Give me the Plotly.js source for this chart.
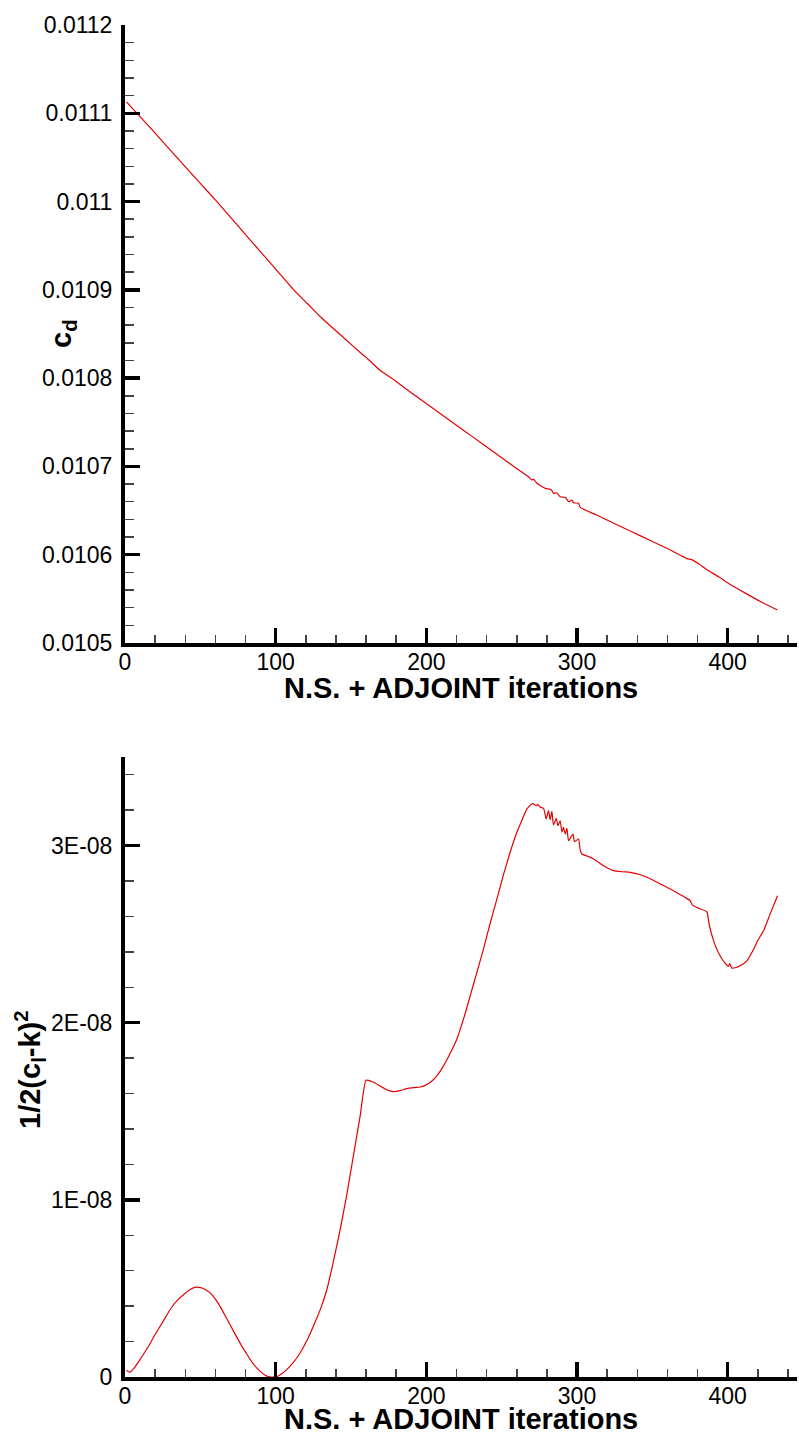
<!DOCTYPE html>
<html>
<head>
<meta charset="utf-8">
<script src="https://cdn.plot.ly/plotly-3.0.1.min.js"></script>
<style>
html, body { margin: 0; padding: 0; background: #ffffff; }
#chart { width: 799px; height: 1437px; }
</style>
</head>
<body>
<div id="chart"></div>
<script>
// ---- data ----
// top panel: drag coefficient vs iteration
var iterCd = [1, 8, 20, 35, 50, 61, 75, 90, 100, 112, 121, 130, 145, 158, 161, 169, 177, 191,
  202, 214, 225, 236, 247, 258, 267.8, 270, 271.1, 273.4, 278.9, 282.2, 283.3, 284.4, 286.6, 288.8,
  292.2, 293.3, 294.4, 296.6, 297.7, 301, 302.1, 313, 324, 336, 349, 361, 373, 376, 381, 386, 394,
  402, 412, 422, 433];
var cdValues = [0.0111130, 0.0111000, 0.0110775, 0.0110490, 0.0110205, 0.0110000, 0.0109725, 0.0109430,
  0.0109235, 0.0109000, 0.0108845, 0.0108690, 0.0108460, 0.0108262, 0.0108220, 0.0108092, 0.0108000,
  0.0107823, 0.0107688, 0.0107540, 0.0107405, 0.0107270, 0.0107135, 0.0107000,
  0.0106883, 0.0106846, 0.0106857, 0.0106809, 0.0106752, 0.0106741, 0.0106725, 0.0106695, 0.0106702,
  0.0106657, 0.0106650, 0.0106628, 0.0106600, 0.0106619, 0.0106589, 0.0106582, 0.0106537, 0.0106449,
  0.0106360, 0.0106263, 0.0106158, 0.0106061, 0.0105955, 0.0105945, 0.0105895, 0.0105833, 0.0105750,
  0.0105660, 0.0105562, 0.0105467, 0.0105374];

// bottom panel: 1/2(cl-k)^2 vs iteration (values in units of 1E-08)
var iterObj = [1, 3.3, 6, 10, 15, 20, 25, 30, 35, 39, 43, 47, 50, 52, 56.4, 60, 63, 67.5, 72, 76.5, 81,
  85, 89.6, 93, 96, 98, 101, 104, 107.4, 112, 116, 121, 126, 130, 134, 138, 143, 147, 151.6, 156, 160,
  163.8, 166, 169.3, 174, 178.2, 182, 187, 192, 196, 199, 202.5, 207, 211.4, 216, 220.2, 225, 229.1,
  233.5, 237.9, 242, 246.8, 251, 255.6, 259, 262.3, 266.7, 270, 271.1, 273, 274, 275.6, 277.8, 279.5,
  281.1, 282.2, 283.3, 284.4, 286.2, 287.3, 288.8, 290, 291, 292.2, 293.3, 294.4, 297.3, 298.4, 301,
  302.1, 303.2, 307, 311, 317.6, 321, 324.2, 330, 335.3, 342, 348.6, 356, 364.1, 368, 371.8, 375,
  376.7, 381, 386.2, 387.3, 388.4, 390, 391.8, 395.1, 398.4, 400.6, 401.3, 402.8, 405, 408.3, 412.7,
  417.2, 420, 423.8, 428, 433.1];
var objE8 = [0.038, 0.027, 0.050, 0.099, 0.165, 0.240, 0.310, 0.381, 0.435, 0.466, 0.492, 0.507, 0.505,
  0.500, 0.476, 0.440, 0.400, 0.330, 0.259, 0.190, 0.127, 0.075, 0.033, 0.010, 0.001, 0.000, 0.003,
  0.018, 0.042, 0.085, 0.133, 0.210, 0.306, 0.390, 0.494, 0.640, 0.840, 1.020, 1.250, 1.470, 1.675,
  1.668, 1.660, 1.643, 1.620, 1.611, 1.615, 1.628, 1.634, 1.637, 1.645, 1.662, 1.700, 1.756, 1.830,
  1.907, 2.030, 2.151, 2.283, 2.415, 2.550, 2.698, 2.830, 2.962, 3.050, 3.120, 3.206, 3.235, 3.235,
  3.225, 3.232, 3.216, 3.210, 3.150, 3.197, 3.146, 3.193, 3.116, 3.154, 3.112, 3.140, 3.075, 3.103,
  3.065, 3.097, 3.027, 3.065, 3.022, 3.037, 2.976, 2.952, 2.940, 2.924, 2.886, 2.870, 2.858, 2.852,
  2.849, 2.835, 2.813, 2.780, 2.745, 2.725, 2.707, 2.690, 2.664, 2.645, 2.626, 2.575, 2.530, 2.480,
  2.435, 2.375, 2.335, 2.318, 2.333, 2.308, 2.310, 2.321, 2.349, 2.415, 2.465, 2.519, 2.610, 2.717];
var objValues = objE8.map(function (v) { return v * 1e-8; });

// tick labels and titles
var cdTickVals = [0.0105, 0.0106, 0.0107, 0.0108, 0.0109, 0.011, 0.0111, 0.0112];
var cdTickText = ["0.0105", "0.0106", "0.0107", "0.0108", "0.0109", "0.011", "0.0111", "0.0112"];
var objTickVals = [0, 1e-8, 2e-8, 3e-8];
var objTickText = ["0", "1E-08", "2E-08", "3E-08"];
var xTickVals = [0, 100, 200, 300, 400];
var xTickText = ["0", "100", "200", "300", "400"];
var xTitle = "N.S. + ADJOINT iterations";
var cdTitle = "c<sub>d</sub>";
var objTitle = "1/2(c<sub>l</sub>-k)<sup>2</sup>";

// ---- styling ----
var FONT = "Liberation Sans, Arial, Helvetica, sans-serif";
var lineColor = "rgb(228,0,0)";

function xAxis(anchor) {
  return {
    anchor: anchor,
    range: [0, 446],
    tickmode: "array", tickvals: xTickVals, ticktext: xTickText,
    showline: true, linecolor: "#000", linewidth: 4,
    ticks: "inside", ticklen: 15, tickwidth: 3.5, tickcolor: "#000",
    minor: { dtick: 20, tick0: 0, ticks: "inside", ticklen: 8, tickwidth: 1.5, tickcolor: "#444", showgrid: false },
    showgrid: false, zeroline: false, mirror: false,
    tickfont: { family: FONT, size: 23, color: "#000" },
    ticklabelstandoff: -5
  };
}

function yAxis(anchor, domain, range, tv, tt, minorDtick) {
  return {
    anchor: anchor, domain: domain, range: range,
    tickmode: "array", tickvals: tv, ticktext: tt,
    showline: true, linecolor: "#000", linewidth: 4,
    ticks: "inside", ticklen: 15, tickwidth: 3.5, tickcolor: "#000",
    minor: { dtick: minorDtick, tick0: range[0], ticks: "inside", ticklen: 9, tickwidth: 1.5, tickcolor: "#444", showgrid: false },
    showgrid: false, zeroline: false, mirror: false,
    tickfont: { family: FONT, size: 23, color: "#000" },
    ticklabelstandoff: 4
  };
}

var traces = [
  { x: iterCd, y: cdValues, xaxis: "x", yaxis: "y", type: "scatter", mode: "lines",
    line: { color: lineColor, width: 1.2, shape: "spline", smoothing: 0.5 }, showlegend: false },
  { x: iterObj, y: objValues, xaxis: "x2", yaxis: "y2", type: "scatter", mode: "lines",
    line: { color: lineColor, width: 1.2, shape: "spline", smoothing: 0.5 }, showlegend: false }
];

function titleAnn(text, x, y, angle, yanchor) {
  return { text: "<b>" + text + "</b>", xref: "paper", yref: "paper", x: x, y: y,
    xanchor: "center", yanchor: yanchor || "middle", textangle: angle, showarrow: false,
    borderpad: 0,
    font: { family: FONT, size: 29, color: "#000" } };
}

var layout = {
  width: 799, height: 1437,
  margin: { l: 125, r: 2, t: 25, b: 60 },
  paper_bgcolor: "#ffffff", plot_bgcolor: "#ffffff",
  font: { family: FONT, color: "#000" },
  showlegend: false,
  xaxis: xAxis("y"),
  yaxis: yAxis("x", [0.5429, 1], [0.0105, 0.0112], cdTickVals, cdTickText, 0.00002),
  xaxis2: xAxis("y2"),
  yaxis2: yAxis("x2", [0, 0.4586], [0, 3.5e-8], objTickVals, objTickText, 2e-9),
  annotations: [
    titleAnn(xTitle, 0.5, 0.5096, 0),
    titleAnn(xTitle, 0.5, -0.0440, 0, "bottom"),
    titleAnn(cdTitle, -0.0923, 0.7722, -90),
    titleAnn(objTitle, -0.1414, 0.2271, -90)
  ]
};

Plotly.newPlot("chart", traces, layout, { displayModeBar: false, staticPlot: true });
</script>
</body>
</html>
